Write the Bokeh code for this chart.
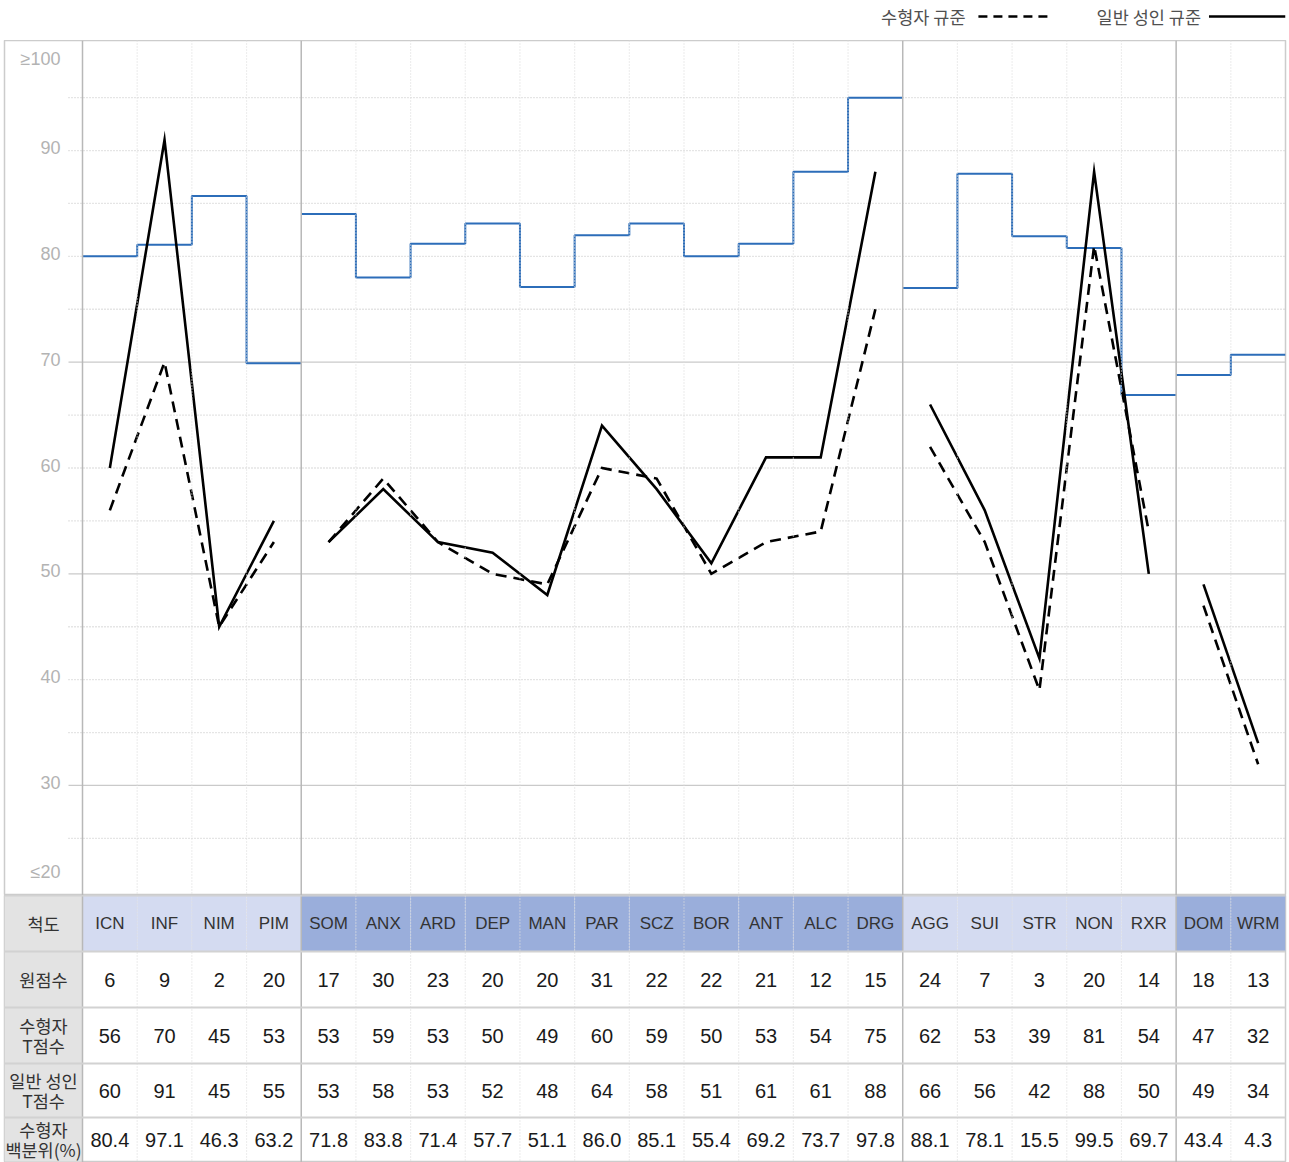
from bokeh.plotting import figure
from bokeh.models import Range1d, Span
from bokeh.layouts import column
from bokeh.core.properties import value
from bokeh.embed import file_html
from bokeh.resources import INLINE

# ---------------- data ----------------
scales = ["ICN", "INF", "NIM", "PIM", "SOM", "ANX", "ARD", "DEP", "MAN", "PAR", "SCZ",
          "BOR", "ANT", "ALC", "DRG", "AGG", "SUI", "STR", "NON", "RXR", "DOM", "WRM"]
group_sizes = [4, 11, 5, 2]
raw_scores = [6, 9, 2, 20, 17, 30, 23, 20, 20, 31, 22, 22, 21, 12, 15, 24, 7, 3, 20, 14, 18, 13]
inmate_t = [56, 70, 45, 53, 53, 59, 53, 50, 49, 60, 59, 50, 53, 54, 75, 62, 53, 39, 81, 54, 47, 32]
adult_t = [60, 91, 45, 55, 53, 58, 53, 52, 48, 64, 58, 51, 61, 61, 88, 66, 56, 42, 88, 50, 49, 34]
inmate_pct = ["80.4", "97.1", "46.3", "63.2", "71.8", "83.8", "71.4", "57.7", "51.1", "86.0", "85.1",
              "55.4", "69.2", "73.7", "97.8", "88.1", "78.1", "15.5", "99.5", "69.7", "43.4", "4.3"]
ref_step = [80.0, 81.1, 85.7, 69.9, 84.0, 78.0, 81.2, 83.1, 77.1, 82.0, 83.1,
            80.0, 81.2, 88.0, 95.0, 77.0, 87.8, 81.9, 80.8, 66.9, 68.8, 70.7]
y_tick_vals = [100, 90, 80, 70, 60, 50, 40, 30, 20]
y_tick_labels = ["≥100", "90", "80", "70", "60", "50", "40", "30", "≤20"]
y_solid_grid = [30, 50, 70]
y_dotted_grid = [25, 35, 40, 45, 55, 60, 65, 75, 80, 85, 90, 95]
row_labels = ["척도", "원점수", "수형자\nT점수", "일반 성인\nT점수", "수형자\n백분위(%)"]
legend_labels = ["수형자 규준", "일반 성인 규준"]

# ---------------- layout / style constants ----------------
W = 1289
SIDE = 4
LABEL_W = 78
N = len(scales)
COL_W = (W - 2 * SIDE - LABEL_W) / N
EXT = 14
LEG_H = 40
CHART_H = 855
TABLE_H = 267
ROW_EDGES = [0, 56, 112, 168, 222, 266]   # pixel edges of table rows
Y0, Y1 = 19.6, 100.4
tick_label_offsets = [14, -3, -3, -3, -3, -3, -3, -3, -19]
LATIN = "Liberation Sans"
KR = "Noto Sans CJK KR"
GRID_C = "#cacaca"
GROUP_C = "#b8b8b8"
COLDOT_C = "#dedede"
FRAME_C = "#cccccc"
LIGHT_HDR = "#d4dbf1"
DARK_HDR = "#9aaedb"
X_LEFT = -LABEL_W / COL_W
X_GRID = -EXT / COL_W

bounds = [0]
for g in group_sizes:
    bounds.append(bounds[-1] + g)
groups = list(zip(bounds[:-1], bounds[1:]))

# ---------------- legend ----------------
leg = figure(width=W, height=LEG_H, x_range=Range1d(0, W), y_range=Range1d(LEG_H, 0),
             output_backend="svg", toolbar_location=None, x_axis_location=None,
             y_axis_location=None, min_border=0, outline_line_color=None)
leg.grid.visible = False
leg.text(x=[967, 1204], y=[16, 16], text=legend_labels, text_align="right",
         text_baseline="middle", text_font=value(KR), text_font_size="17.5px",
         text_color="#505050")
leg.line(x=[980, 1055], y=[16, 16], line_color="black", line_width=2.5, line_dash="9 6")
leg.line(x=[1212, 1289], y=[16, 16], line_color="black", line_width=2.5)

# ---------------- chart ----------------
chart = figure(width=W, height=CHART_H, x_range=Range1d(X_LEFT, N), y_range=Range1d(Y0, Y1),
               output_backend="svg", toolbar_location=None, x_axis_location=None,
               y_axis_location=None, min_border_left=SIDE, min_border_right=SIDE,
               min_border_top=0, min_border_bottom=0,
               outline_line_color=FRAME_C, outline_line_width=1.5)
chart.grid.visible = False

chart.segment(x0=[X_GRID] * len(y_dotted_grid), x1=[N] * len(y_dotted_grid),
              y0=y_dotted_grid, y1=y_dotted_grid, line_color=GRID_C, line_width=1.3,
              line_dash="1 2")
chart.segment(x0=[X_GRID] * len(y_solid_grid), x1=[N] * len(y_solid_grid),
              y0=y_solid_grid, y1=y_solid_grid, line_color=GRID_C, line_width=1.3)

chart.text(x=[X_GRID] * len(y_tick_vals), y=y_tick_vals, text=y_tick_labels,
           x_offset=-8, y_offset=tick_label_offsets, text_align="right",
           text_baseline="middle", text_font=value(LATIN), text_font_size="18px",
           text_color="#b3b3b3")

for k in range(0, N):
    if k in bounds:
        chart.add_layout(Span(location=k, dimension="height", line_color=GROUP_C, line_width=1.5))
    else:
        chart.add_layout(Span(location=k, dimension="height", line_color=COLDOT_C,
                              line_width=1.2, line_dash="1 2"))

for s, e in groups:
    xs = list(range(s, e + 1))
    ys = ref_step[s:e] + [ref_step[e - 1]]
    chart.step(x=xs, y=ys, mode="after", line_color="#2c6db9", line_width=2)

for s, e in groups:
    cx = [i + 0.5 for i in range(s, e)]
    chart.line(x=cx, y=inmate_t[s:e], line_color="black", line_width=2.6,
               line_dash="11 7", line_join="miter")
    chart.line(x=cx, y=adult_t[s:e], line_color="black", line_width=2.6, line_join="miter")

# ---------------- table ----------------
table = figure(width=W, height=TABLE_H, x_range=Range1d(X_LEFT, N),
               y_range=Range1d(TABLE_H, 0), output_backend="svg",
               toolbar_location=None, x_axis_location=None, y_axis_location=None,
               min_border_left=SIDE, min_border_right=SIDE, min_border_top=0,
               min_border_bottom=0, outline_line_color=FRAME_C, outline_line_width=1.5)
table.grid.visible = False

nrows = len(row_labels)
tops = ROW_EDGES[:-1]
bots = ROW_EDGES[1:]
mids = [(a + b) / 2 for a, b in zip(tops, bots)]

hdr_colors = []
for gi, (s, e) in enumerate(groups):
    hdr_colors += [LIGHT_HDR if gi % 2 == 0 else DARK_HDR] * (e - s)
idx = list(range(N))
table.quad(left=idx, right=[i + 1 for i in idx], top=[tops[0]] * N, bottom=[bots[0]] * N,
           fill_color=hdr_colors, line_color=None)
table.quad(left=[X_LEFT] * nrows, right=[0] * nrows, top=tops, bottom=bots,
           fill_color="#e3e3e3", line_color=None)

for k in range(0, N):
    if k in bounds:
        table.add_layout(Span(location=k, dimension="height", line_color=GROUP_C, line_width=1.5))
    else:
        table.add_layout(Span(location=k, dimension="height", line_color=COLDOT_C,
                              line_width=1.2, line_dash="1 2"))
for t in tops:
    table.add_layout(Span(location=t, dimension="width", line_color="#d2d2d2", line_width=2))

cx = [i + 0.5 for i in idx]
table.text(x=cx, y=[mids[0]] * N, text=scales, text_align="center", text_baseline="middle",
           text_font=value(LATIN), text_font_size="17px", text_color="#333333")
for r, vals in enumerate([raw_scores, inmate_t, adult_t, inmate_pct], start=1):
    table.text(x=cx, y=[mids[r]] * N, text=[str(v) for v in vals], text_align="center",
               text_baseline="middle", text_font=value(LATIN), text_font_size="20px",
               text_color="#1a1a1a")
table.text(x=[X_LEFT / 2] * nrows, y=mids, text=row_labels,
           text_align="center", text_baseline="middle", text_font=value(KR),
           text_font_size="17.5px", text_color="#333333", text_line_height=0.8)

page = column(leg, chart, table)

with open("out.html", "w") as f:
    f.write(file_html(page, INLINE))
